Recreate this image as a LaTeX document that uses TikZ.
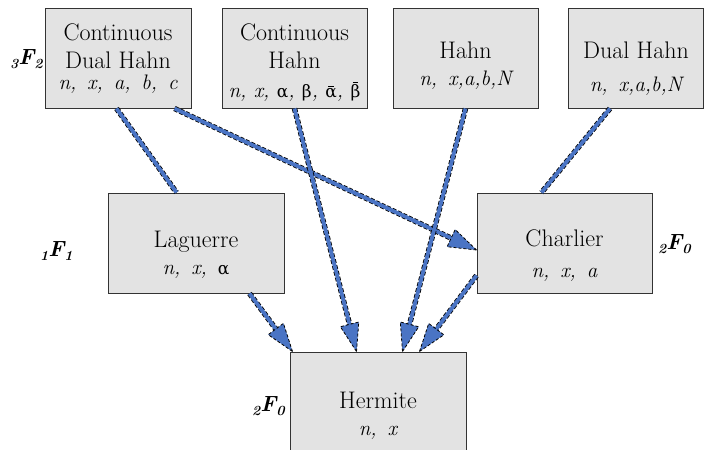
\documentclass[tikz,border=0pt]{standalone}
\usepackage{fontspec}
\newfontfamily\grk{DejaVu Serif}
\usetikzlibrary{calc}
\definecolor{linkblue}{HTML}{4A74C4}
\definecolor{boxfill}{HTML}{E3E3E3}
\definecolor{boxline}{HTML}{333333}
\newcommand{\hyplab}[2]{{\bfseries\itshape{\fontsize{14}{14}\selectfont\raisebox{-4pt}{#1}}F{\fontsize{14}{14}\selectfont\raisebox{-4pt}{#2}}}}
\newsavebox{\barbx}
\newcommand{\barred}[2]{\sbox{\barbx}{#2}\leavevmode\rlap{\hbox to \wd\barbx{\hss\rule[#1]{0.55\wd\barbx}{0.05em}\hss}}\usebox{\barbx}}
\newcommand{\gr}[1]{{\upshape\grk\fontsize{17}{20}\selectfont #1}}
\newcommand{\conline}[2]{\draw[conn] (#1) -- (#2);}
\newcommand{\conarrow}[2]{%
  \draw[conn] (#1) -- ($(#2)!21pt!(#1)$);
  \coordinate (ab) at ($(#2)!28pt!(#1)$);
  \filldraw[headstyle] (#2) -- ($(ab)!9.5pt!90:(#2)$) -- ($(ab)!9.5pt!-90:(#2)$) -- cycle;
}
\begin{document}
\begin{tikzpicture}[x=1pt,y=-1pt,
  box/.style={rectangle, draw=boxline, fill=boxfill, line width=1pt, minimum height=100pt, inner sep=0pt},
  nm/.style={anchor=base, inner sep=0pt, font=\fontsize{24}{28}\selectfont},
  pm/.style={anchor=base, inner sep=0pt, font=\fontsize{21}{24}\selectfont\itshape},
  hl/.style={anchor=base west, inner sep=0pt, font=\fontsize{22}{24}\selectfont},
  conn/.style={draw=linkblue, line width=3.8pt, preaction={draw=black, line width=5.4pt, dash pattern=on 4pt off 2pt}},
  headstyle/.style={fill=linkblue, draw=black, line width=0.8pt, dash pattern=on 3pt off 2pt, line join=miter}]
\useasboundingbox (0,0) rectangle (705,450);

% boxes
\node[box, minimum width=146pt] (cdh) at (118,58) {};
\node[box, minimum width=145pt] (ch) at (294.5,58) {};
\node[box, minimum width=145pt] (hahn) at (465.5,58) {};
\node[box, minimum width=135pt] (dh) at (636,58) {};
\node[box, minimum width=176pt] (lag) at (196,243) {};
\node[box, minimum width=175pt] (cha) at (564.5,243) {};
\node[box, minimum width=176pt, minimum height=110pt] (her) at (378,407) {};

% texts
\node[nm] (cdh1) at (118,40) {Continuous};
\node[nm] (cdh2) at (118,68) {Dual Hahn};
\node[pm] (cdh3) at (118,89) {n,\, x,\, a,\, b,\, c};
\node[nm] (ch1) at (294.5,40) {Continuous};
\node[nm] (ch2) at (294.5,68) {Hahn};
\node[pm] (ch3) at (294.5,97) {n, x, \gr{α}, \gr{β}, \gr{\barred{0.62em}{α}}, \gr{\barred{0.86em}{β}}};
\node[nm] (hahn1) at (465.5,58) {Hahn};
\node[pm] (hahn2) at (465.5,85) {n,\, x,a,b,N};
\node[nm] (dh1) at (636,58) {Dual Hahn};
\node[pm] (dh2) at (636,91) {n,\, x,a,b,N};
\node[nm] (lag1) at (196,247) {Laguerre};
\node[pm] (lag2) at (196,274) {n,\, x,\, \gr{α}};
\node[nm] (cha1) at (564.5,246) {Charlier};
\node[pm] (cha2) at (564.5,277) {n,\, x,\, a};
\node[nm] (her1) at (378,408) {Hermite};
\node[pm] (her2) at (378,435) {n,\, x};

% hypergeometric labels
\node[hl] (l32) at (10,64) {\hyplab{3}{2}};
\node[hl] (l11) at (40,256) {\hyplab{1}{1}};
\node[hl] (l20a) at (252,411) {\hyplab{2}{0}};
\node[hl] (l20b) at (658,249) {\hyplab{2}{0}};

% connector end points
\coordinate (s1) at ([xshift=72pt]cdh.south west);
\coordinate (t1) at ([xshift=69pt]lag.north west);
\coordinate (s2) at ([xshift=130pt]cdh.south west);
\coordinate (t2) at ([yshift=-7pt]cha.west);
\coordinate (s3) at ([xshift=73pt]ch.south west);
\coordinate (t3) at ([xshift=67pt]her.north west);
\coordinate (s4) at (hahn.south);
\coordinate (t4) at ([xshift=113pt]her.north west);
\coordinate (s5) at ([xshift=42pt]dh.south west);
\coordinate (t5) at ([xshift=65pt]cha.north west);
\coordinate (s6) at ([xshift=142pt]lag.south west);
\coordinate (t6) at ([xshift=3pt]her.north west);
\coordinate (s7) at ([yshift=18pt]cha.south west);
\coordinate (t7) at ([xshift=130pt]her.north west);

% connectors
\conline{s1}{t1}
\conline{s5}{t5}
\conarrow{s2}{t2}
\conarrow{s3}{t3}
\conarrow{s4}{t4}
\conarrow{s6}{t6}
\conarrow{s7}{t7}
\end{tikzpicture}
\end{document}
